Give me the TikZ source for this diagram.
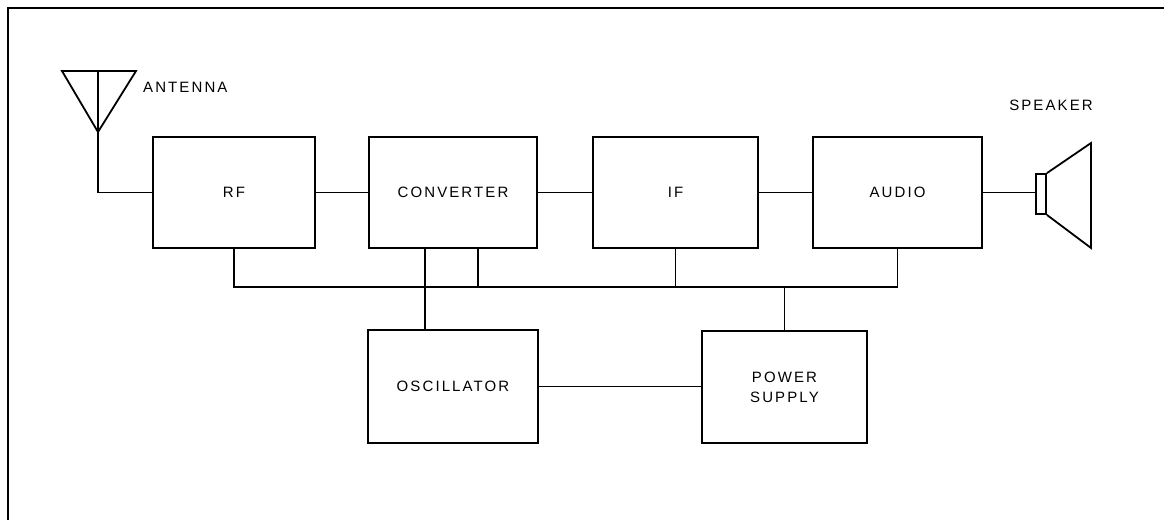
\documentclass[tikz,border=0pt]{standalone}
\usepackage{fontspec}
\newfontfamily\lblfont{Liberation Sans}[LetterSpace=14]
\begin{document}
\begin{tikzpicture}[x=1pt,y=-1pt,
  blk/.style={draw, line width=1.9pt, inner sep=0pt, minimum height=111,
              font=\lblfont\fontsize{15}{20}\selectfont, align=center},
  lbl/.style={font=\lblfont\fontsize{15}{20}\selectfont, inner sep=0pt},
  wire/.style={line width=1.8pt},
  line join=miter]
\useasboundingbox (0,0) rectangle (1164,520);
% frame
\draw[line width=1.8pt] (8,520) -- (8,8) -- (1164,8);
% main chain
\node[blk, minimum width=162] (rf)    at (234,192.5)   {RF};
\node[blk, minimum width=168] (conv)  at (453,192.5)   {CONVERTER};
\node[blk, minimum width=165] (if)    at (675.5,192.5) {IF};
\node[blk, minimum width=169] (audio) at (897.5,192.5) {AUDIO};
\node[blk, minimum width=170, minimum height=113] (osc) at (453,386.5) {OSCILLATOR};
\node[blk, minimum width=165, minimum height=112] (ps)  at (784.5,387) {POWER\\SUPPLY};
% antenna
\coordinate (antL) at (62,71);
\coordinate (antR) at (136,71);
\coordinate (antT) at (98,71);
\coordinate (ant)  at (98,132);
\draw[wire] (antL) -- (antR) -- (ant) -- cycle;
\draw[wire] (antT) -- (ant) |- (rf.west);
\node[lbl, anchor=west] (antlbl) at (143,87) {ANTENNA};
% speaker
\node[draw, line width=1.8pt, inner sep=0pt, minimum width=10, minimum height=40] (spk) at (1041,194) {};
\coordinate (coneT) at (1091,143);
\coordinate (coneB) at (1091,248);
\draw[wire] (spk.north east) -- (coneT) -- (coneB) -- (spk.south east);
\node[lbl] (spklbl) at (1051,105) {SPEAKER};
% signal path
\draw[wire] (rf.east) -- (conv.west);
\draw[wire] (conv.east) -- (if.west);
\draw[wire] (if.east) -- (audio.west);
\draw[wire] (audio.east) -- (audio.east -| spk.west);
% power bus
\coordinate (bus) at (0,287);
\draw[wire] (rf.south) -- (rf.south |- bus) -- (audio.south |- bus) -- (audio.south);
\draw[wire] ([xshift=-28]conv.south) -- ([xshift=-28]osc.north);
\draw[wire] ([xshift=25]conv.south) -- ([xshift=25]conv.south |- bus);
\draw[wire] (if.south) -- (if.south |- bus);
\draw[wire] (ps.north) -- (ps.north |- bus);
% oscillator to power supply
\draw[wire] (osc.east) -- (osc.east -| ps.west);
\end{tikzpicture}
\end{document}
